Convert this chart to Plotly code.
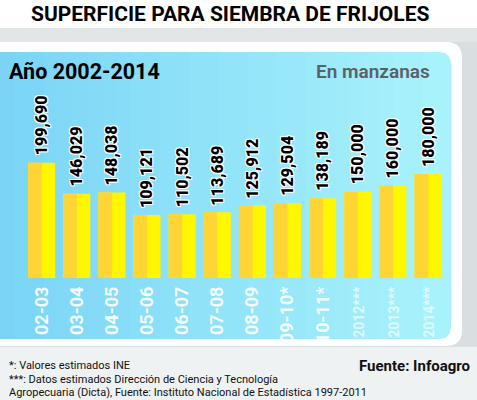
import plotly.graph_objects as go

# ---------------- data ----------------
categories = ["02-03", "03-04", "04-05", "05-06", "06-07", "07-08", "08-09",
              "09-10*", "10-11*", "2012***", "2013***", "2014***"]
values = [199690, 146029, 148038, 109121, 110502, 113689, 125912,
          129504, 138189, 150000, 160000, 180000]
value_labels = ["199,690", "146,029", "148,038", "109,121", "110,502", "113,689",
                "125,912", "129,504", "138,189", "150,000", "160,000", "180,000"]
small_ticks = ["2012***", "2013***", "2014***"]

title_text = "SUPERFICIE PARA SIEMBRA DE FRIJOLES"
subtitle_text = "Año 2002-2014"
unit_text = "En manzanas"
source_text = "Fuente: Infoagro"
notes = ["*: Valores estimados INE",
         "***: Datos estimados Dirección de Ciencia y Tecnología",
         "Agropecuaria (Dicta), Fuente: Instituto Nacional de Estadística 1997-2011"]

# ---------------- geometry helpers ----------------
W, H = 477, 400


def px(x):
    return x / W


def py(y):
    return 1 - y / H


FONT = "Roboto, Liberation Sans, Arial, sans-serif"


def rounded_right(x0, y0, x1, y1, r):
    return (f"M {px(x0)},{py(y0)} L {px(x1 - r)},{py(y0)} "
            f"Q {px(x1)},{py(y0)} {px(x1)},{py(y0 + r)} "
            f"L {px(x1)},{py(y1 - r)} "
            f"Q {px(x1)},{py(y1)} {px(x1 - r)},{py(y1)} "
            f"L {px(x0)},{py(y1)} Z")


shapes = []
shapes.append(dict(type="rect", xref="paper", yref="paper", x0=0, x1=1,
                   y0=py(28), y1=1, fillcolor="#ffffff", line_width=0, layer="below"))
shapes.append(dict(type="rect", xref="paper", yref="paper", x0=0, x1=1,
                   y0=py(347), y1=py(28), fillcolor="#d9dfe1", line_width=0, layer="below"))
shapes.append(dict(type="rect", xref="paper", yref="paper", x0=0, x1=1,
                   y0=py(42), y1=py(28), fillcolor="#e2e6e7", line_width=0, layer="below"))
shapes.append(dict(type="path", xref="paper", yref="paper",
                   path=rounded_right(-20, 42, 462, 346, 16),
                   fillcolor="#ffffff", line_width=0, layer="below"))
c_left = (122, 212, 246)
c_right = (168, 242, 251)
shapes.append(dict(type="path", xref="paper", yref="paper",
                   path=rounded_right(-20, 52, 451, 339, 13),
                   fillcolor="rgb(%d,%d,%d)" % c_right, line_width=0, layer="below"))
N = 30
x_end = 437
for i in range(N):
    xa = x_end * i / N
    xb = x_end * (i + 1) / N + 0.6
    t = (i + 0.5) / N
    col = tuple(round(c_left[k] + (c_right[k] - c_left[k]) * t) for k in range(3))
    shapes.append(dict(type="rect", xref="paper", yref="paper",
                       x0=px(xa), x1=px(xb), y0=py(339), y1=py(52),
                       fillcolor="rgb(%d,%d,%d)" % col, line_width=0, layer="below"))

# ---------------- ticks ----------------
tick_text = []
for c in categories:
    if c in small_ticks:
        tick_text.append('<span style="font-size:14px;color:rgba(255,255,255,0.72)">%s</span>' % c)
    else:
        tick_text.append(c)

# ---------------- traces ----------------
fig = go.Figure()
fig.add_trace(go.Bar(x=categories, y=values, width=0.77,
                     marker=dict(color="#fff700", line_width=0),
                     hoverinfo="skip", showlegend=False))
fig.add_trace(go.Bar(x=categories, y=values, width=0.39, offset=-0.385,
                     marker=dict(color="#ffd535", line_width=0),
                     hoverinfo="skip", showlegend=False))

annotations = []
outline = ("-1px -1px 0 #ffffff, 1px -1px 0 #ffffff, -1px 1px 0 #ffffff, "
           "1px 1px 0 #ffffff, 0 0 2px #ffffff")
for c, v, lab in zip(categories, values, value_labels):
    annotations.append(dict(x=c, y=v, xref="x", yref="y", text=lab, textangle=-90,
                            showarrow=False, yanchor="bottom", xanchor="center", yshift=5,
                            font=dict(family=FONT, size=16, color="#000000",
                                      weight=900, shadow=outline)))

annotations.append(dict(x=px(230), y=py(14), xref="paper", yref="paper", text=title_text,
                        showarrow=False, xanchor="center", yanchor="middle",
                        font=dict(family=FONT, size=21, color="#000000", weight="bold")))
annotations.append(dict(x=px(7), y=py(72), xref="paper", yref="paper", text=subtitle_text,
                        showarrow=False, xanchor="left", yanchor="middle",
                        font=dict(family=FONT, size=21.5, color="#000000", weight="bold")))
annotations.append(dict(x=px(432), y=py(72), xref="paper", yref="paper", text=unit_text,
                        showarrow=False, xanchor="right", yanchor="middle",
                        font=dict(family=FONT, size=19, color="#5a6166", weight=600)))
annotations.append(dict(x=px(472), y=py(366), xref="paper", yref="paper", text=source_text,
                        showarrow=False, xanchor="right", yanchor="middle",
                        font=dict(family=FONT, size=15, color="#111111", weight="bold")))
for txt, yy in zip(notes, [365, 379, 392]):
    annotations.append(dict(x=px(7), y=py(yy), xref="paper", yref="paper", text=txt,
                            showarrow=False, xanchor="left", yanchor="middle",
                            font=dict(family=FONT, size=11, color="#111111")))

fig.update_layout(
    width=W, height=H,
    margin=dict(l=0, r=0, t=0, b=0),
    paper_bgcolor="#eef2f3",
    plot_bgcolor="rgba(0,0,0,0)",
    barmode="overlay",
    showlegend=False,
    shapes=shapes,
    annotations=annotations,
    xaxis=dict(domain=[px(24.1), px(445.6)], type="category",
               tickmode="array", tickvals=categories, ticktext=tick_text,
               tickangle=-90, ticks="", showgrid=False, zeroline=False, showline=False,
               ticklabelstandoff=4,
               tickfont=dict(family=FONT, size=18, color="rgba(255,255,255,0.92)",
                             weight="bold")),
    yaxis=dict(domain=[py(278), py(133.65)], range=[0, 250000], visible=False,
               showgrid=False, zeroline=False),
)

fig.write_html("out.html", config={"displayModeBar": False},
               post_script="document.body.style.margin='0px';")
